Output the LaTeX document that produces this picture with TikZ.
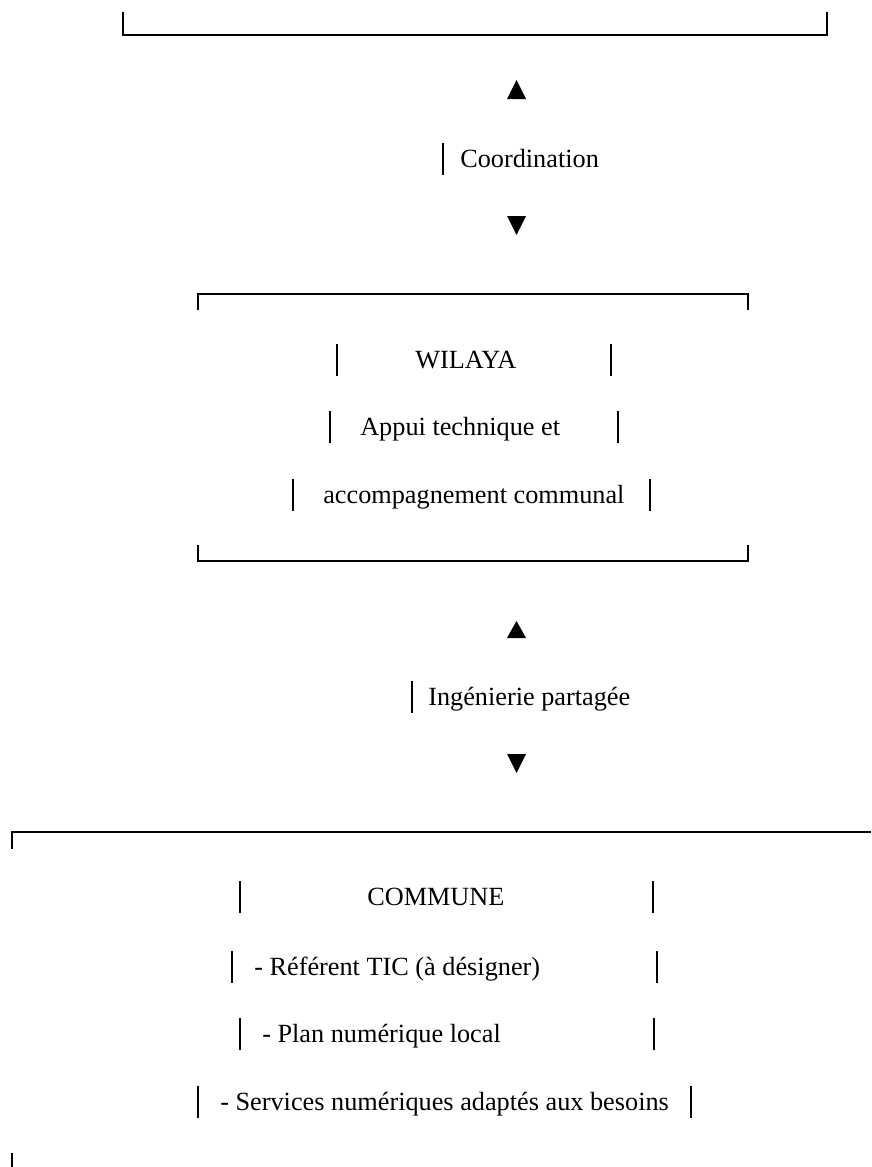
\documentclass[tikz,border=0pt]{standalone}
\usepackage{fontspec}
\setmainfont{Liberation Serif}

\begin{document}
\begin{tikzpicture}[x=0.75pt,y=-0.75pt,
		txt/.style={anchor=base west,inner sep=0pt,font=\fontsize{19.7}{24}\selectfont},
		rule/.style={line width=1.5pt},
		frame/.style={line width=1.4pt}]
		\useasboundingbox (0,0) rectangle (871,1167);
		\draw[frame] (123,12) -- (123,35) -- (827,35) -- (827,12);
		\fill (507,99) -- (526,99) -- (516.5,80) -- cycle;
		\node[txt] (coord_lbl) at (460,167) {Coordination};
		\draw[rule] (443,143) -- (443,175);
		\fill (507,216) -- (526,216) -- (516.5,235) -- cycle;
		\draw[frame] (198,310) -- (198,294) -- (748,294) -- (748,310);
		\node[txt] (wilaya_title) at (415,368) {WILAYA};
		\node[txt] (wilaya_l1) at (360,435) {Appui technique et};
		\node[txt] (wilaya_l2) at (323,503) {accompagnement communal};
		\draw[frame] (198,545) -- (198,561) -- (748,561) -- (748,545);
		\fill (507,638) -- (526,638) -- (516.5,621) -- cycle;
		\node[txt] (inge_lbl) at (428,705) {Ingénierie partagée};
		\draw[rule] (412,681) -- (412,713);
		\fill (507,754) -- (526,754) -- (516.5,773) -- cycle;
		\draw[frame] (12,849) -- (12,832) -- (871,832);
		\node[txt] (commune_title) at (367,905) {COMMUNE};
		\node[txt] (commune_l1) at (254,975) {- Référent TIC (à désigner)};
		\node[txt] (commune_l2) at (262,1042) {- Plan numérique local};
		\node[txt] (commune_l3) at (220,1110) {- Services numériques adaptés aux besoins};
		\draw[frame] (12,1153) -- (12,1167);
		\foreach \y/\l/\r in {368/337/611, 435/330/618, 503/293/650, 905/240/653, 975/232/657, 1042/240/654, 1110/198/691}{
			\draw[rule] (\l,\y-24) -- (\l,\y+8);
			\draw[rule] (\r,\y-24) -- (\r,\y+8);
		}
	\end{tikzpicture}
\end{document}
